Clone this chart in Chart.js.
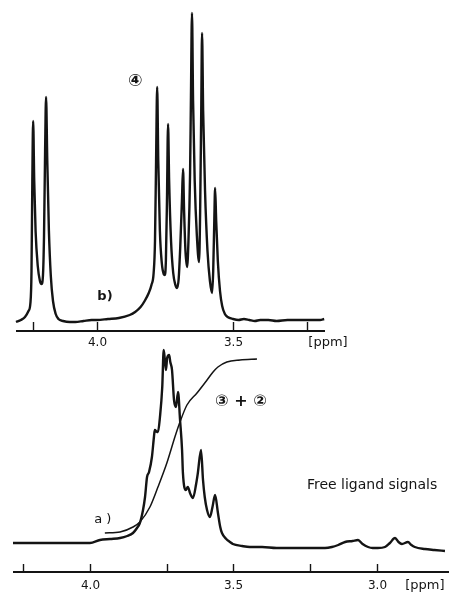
<!DOCTYPE html>
<html>
<head>
<meta charset="utf-8">
<script src="https://cdn.jsdelivr.net/npm/chart.js@4/dist/chart.umd.min.js"></script>
<style>
  html, body { margin: 0; padding: 0; background: #ffffff; }
  #wrap { position: relative; width: 450px; height: 594px; overflow: hidden; background: #ffffff; }
  canvas { position: absolute; left: 0; top: 0; }
</style>
</head>
<body>
<div id="wrap">
  <canvas id="chartB" width="450" height="594"></canvas>
  <canvas id="chartA" width="450" height="594"></canvas>
</div>
<script>
// ---------- DATA ----------
// Spectrum b) (top panel): chemical shift [ppm] and relative intensity
const ppmB = [4.298, 4.280, 4.265, 4.252, 4.245, 4.241, 4.238, 4.235, 4.231, 4.226, 4.218, 4.210, 4.204, 4.199, 4.195, 4.191, 4.1875, 4.183, 4.177, 4.170, 4.162, 4.152, 4.142, 4.125, 4.10, 4.08, 4.05, 4.02, 4.00, 3.96, 3.92, 3.88, 3.86, 3.84, 3.825, 3.81, 3.80, 3.792, 3.787, 3.783, 3.779, 3.775, 3.769, 3.762, 3.755, 3.751, 3.747, 3.743, 3.739, 3.735, 3.728, 3.720, 3.712, 3.706, 3.700, 3.694, 3.688, 3.684, 3.680, 3.675, 3.669, 3.664, 3.658, 3.655, 3.651, 3.647, 3.641, 3.633, 3.625, 3.621, 3.617, 3.614, 3.610, 3.603, 3.594, 3.585, 3.577, 3.573, 3.569, 3.566, 3.562, 3.556, 3.548, 3.540, 3.530, 3.52, 3.50, 3.48, 3.46, 3.44, 3.42, 3.40, 3.37, 3.34, 3.30, 3.26, 3.22, 3.18, 3.165];
const intB = [9, 11, 14, 20, 28, 60, 150, 210, 150, 100, 65, 50, 47, 55, 95, 180, 234, 170, 100, 55, 30, 17, 12, 10, 9, 9, 10, 11, 11, 12, 13, 16, 19, 24, 30, 38, 46, 58, 90, 170, 244, 170, 100, 68, 57, 56, 70, 130, 207, 150, 90, 58, 46, 43, 52, 85, 130, 162, 120, 80, 64, 90, 158, 230, 318, 230, 150, 95, 69, 120, 220, 298, 220, 140, 80, 50, 38, 60, 110, 143, 110, 70, 40, 25, 17, 14, 12, 11, 12, 11, 10, 11, 11, 10, 11, 11, 11, 11, 12];

// Spectrum a) (bottom panel)
const ppmA = [4.268, 4.10, 4.00, 3.965, 3.93, 3.895, 3.87, 3.850, 3.836, 3.826, 3.815, 3.808, 3.801, 3.794, 3.784, 3.777, 3.774, 3.766, 3.763, 3.756, 3.748, 3.743, 3.739, 3.735, 3.731, 3.724, 3.720, 3.714, 3.707, 3.700, 3.693, 3.686, 3.679, 3.676, 3.666, 3.659, 3.650, 3.641, 3.630, 3.624, 3.613, 3.606, 3.600, 3.592, 3.582, 3.573, 3.564, 3.554, 3.546, 3.540, 3.525, 3.512, 3.502, 3.47, 3.443, 3.40, 3.35, 3.30, 3.268, 3.22, 3.181, 3.157, 3.135, 3.111, 3.085, 3.066, 3.05, 3.031, 3.015, 2.997, 2.972, 2.955, 2.937, 2.925, 2.913, 2.892, 2.880, 2.868, 2.833, 2.80, 2.763];
const intA = [29, 29, 29, 32, 33, 34, 36, 39, 44, 49, 62, 75, 95, 100, 115, 135, 142, 140, 140, 155, 185, 222, 212, 202, 214, 217, 210, 202, 172, 165, 180, 152, 122, 99, 82, 85, 78, 74, 88, 99, 122, 92, 75, 62, 55, 65, 77, 59, 45, 39, 33, 30, 28, 26, 25, 25, 24, 24, 24, 24, 24, 25, 27, 30, 31, 32, 28, 25, 24, 24, 25, 29, 34, 30, 28, 30, 27, 25, 23, 22, 21];

// Integral curve over the (3) + (2) signals (bottom panel)
const ppmInt = [3.948, 3.895, 3.850, 3.826, 3.791, 3.763, 3.732, 3.704, 3.690, 3.662, 3.627, 3.592, 3.571, 3.554, 3.523, 3.477, 3.418];
const intInt = [39, 40, 45, 50, 65, 85, 109, 135, 147, 167, 179, 192, 200, 205, 210, 212, 213];

// Axis ticks and their labels
const ticksB = [4.235, 4.0, 3.5, 3.228];
const tickLabelsB = ["", "4.0", "3.5", ""];
const ticksA = [4.233, 4.0, 3.732, 3.5, 3.233, 3.0];
const tickLabelsA = ["", "4.0", "", "3.5", "", "3.0"];
const unitLabel = "[ppm]";

// ---------- DRAWING ----------
const INK = '#141414';
const FONT = '"DejaVu Sans", "Noto Sans", sans-serif';
const CIRC_FONT = '"DejaVu Sans", "Noto Sans CJK JP", sans-serif';

function pts(xs, ys) { return xs.map((x, i) => ({ x: x, y: ys[i] })); }

const nmrAxis = {
  id: 'nmrAxis',
  afterDatasetsDraw(chart, args, opts) {
    const { ctx, chartArea } = chart;
    const xs = chart.scales.x, ys = chart.scales.y;
    ctx.save();
    // axis line
    ctx.strokeStyle = INK;
    ctx.lineWidth = 1.8;
    ctx.beginPath();
    ctx.moveTo(chartArea.left, chartArea.bottom);
    ctx.lineTo(chartArea.right, chartArea.bottom);
    ctx.stroke();
    // ticks (pointing up into the plot) and labels
    ctx.lineWidth = 1.4;
    ctx.fillStyle = INK;
    ctx.font = '12px ' + FONT;
    ctx.textAlign = 'center';
    ctx.textBaseline = 'middle';
    opts.ticks.forEach((v, i) => {
      const px = Math.round(xs.getPixelForValue(v)) + 0.5;
      ctx.beginPath();
      ctx.moveTo(px, chartArea.bottom);
      ctx.lineTo(px, chartArea.bottom - opts.tickLen);
      ctx.stroke();
      if (opts.labels[i]) ctx.fillText(opts.labels[i], px, chartArea.bottom + opts.labelGap);
    });
    // unit
    ctx.font = '13px ' + FONT;
    ctx.fillText(unitLabel, xs.getPixelForValue(opts.unitAt), chartArea.bottom + opts.labelGap);
    // annotations
    (opts.notes || []).forEach(n => {
      ctx.font = n.font;
      ctx.textAlign = n.align || 'center';
      ctx.fillText(n.text, xs.getPixelForValue(n.x), ys.getPixelForValue(n.y));
    });
    ctx.restore();
  }
};

function makeChart(id, datasets, xmin, xmax, ymax, padding, axisOpts) {
  return new Chart(document.getElementById(id), {
    type: 'line',
    data: { datasets: datasets },
    options: {
      responsive: false,
      animation: false,
      devicePixelRatio: 1,
      layout: { padding: padding },
      parsing: true,
      plugins: { legend: { display: false }, tooltip: { enabled: false }, nmrAxis: axisOpts },
      scales: {
        x: { type: 'linear', reverse: true, min: xmin, max: xmax, display: false },
        y: { type: 'linear', min: 0, max: ymax, display: false }
      }
    },
    plugins: [nmrAxis]
  });
}

const lineStyle = (w) => ({
  borderColor: INK, borderWidth: w, pointRadius: 0, fill: false,
  cubicInterpolationMode: 'monotone', clip: 4
});

// Top panel: spectrum b)
makeChart('chartB',
  [Object.assign({ label: 'b)', data: pts(ppmB, intB) }, lineStyle(2.4))],
  3.162, 4.298, 331,
  { left: 16, right: 125, top: 0, bottom: 263 },
  {
    ticks: ticksB, labels: tickLabelsB, tickLen: 9, labelGap: 12, unitAt: 3.151,
    notes: [
      { text: 'b)', x: 3.971, y: 34, font: 'bold 13px ' + FONT },
      { text: '\u2463', x: 3.860, y: 249, font: 'bold 17px ' + CIRC_FONT }
    ]
  });

// Bottom panel: spectrum a) with integral
makeChart('chartA',
  [
    Object.assign({ label: 'a)', data: pts(ppmA, intA) }, lineStyle(2.4)),
    Object.assign({ label: 'integral', data: pts(ppmInt, intInt) }, lineStyle(1.5))
  ],
  2.749, 4.268, 240,
  { left: 13, right: 1, top: 332, bottom: 22 },
  {
    ticks: ticksA, labels: tickLabelsA, tickLen: 8, labelGap: 14, unitAt: 2.833,
    notes: [
      { text: 'a )', x: 3.955, y: 52, font: '13px ' + FONT },
      { text: '\u2462 + \u2461', x: 3.474, y: 170, font: 'bold 16px ' + CIRC_FONT },
      { text: 'Free ligand signals', x: 3.244, y: 87, font: '14px ' + FONT, align: 'left' }
    ]
  });
</script>
</body>
</html>
